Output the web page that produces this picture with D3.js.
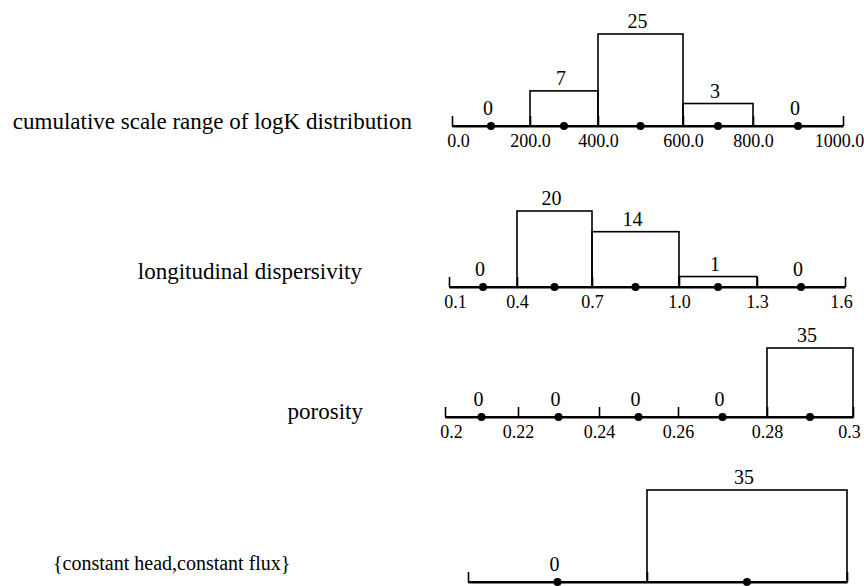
<!DOCTYPE html>
<html>
<head>
<meta charset="utf-8">
<script src="https://cdn.jsdelivr.net/npm/d3@7"></script>
<style>
  html, body { margin: 0; padding: 0; background: #fff; }
  svg { display: block; }
</style>
</head>
<body>
<svg id="chart" width="864" height="586"></svg>
<script>
// ---------------- DATA ----------------
const parameterNames = [
  "cumulative scale range of logK distribution",
  "longitudinal dispersivity",
  "porosity",
  "{constant head,constant flux}"
];
const logKTicks = [0, 200, 400, 600, 800, 1000];
const logKTickLabels = ["0.0", "200.0", "400.0", "600.0", "800.0", "1000.0"];
const logKCounts = [0, 7, 25, 3, 0];

const dispTicks = [0.1, 0.4, 0.7, 1.0, 1.3, 1.6];
const dispTickLabels = ["0.1", "0.4", "0.7", "1.0", "1.3", "1.6"];
const dispCounts = [0, 20, 14, 1, 0];

const porTicks = [0.2, 0.22, 0.24, 0.26, 0.28, 0.3];
const porTickLabels = ["0.2", "0.22", "0.24", "0.26", "0.28", "0.3"];
const porCounts = [0, 0, 0, 0, 35];

const bcCategories = ["constant head", "constant flux"];
const bcCounts = [0, 35];

// ---------------- LAYOUT ----------------
const FONT = "'Liberation Serif', monospace";
const svg = d3.select("#chart");

const panels = [
  { name: parameterNames[0], ticks: logKTicks, labels: logKTickLabels, counts: logKCounts,
    range: [452, 530, 598, 683, 753, 843], axisY: 126, hRange: [13, 92],
    nameX: 412, nameY: 129, nameAnchor: "end", nameSize: 23 },
  { name: parameterNames[1], ticks: dispTicks, labels: dispTickLabels, counts: dispCounts,
    range: [449, 517, 592, 679, 757, 845], axisY: 287, hRange: [7, 76],
    nameX: 362, nameY: 279, nameAnchor: "end", nameSize: 23 },
  { name: parameterNames[2], ticks: porTicks, labels: porTickLabels, counts: porCounts,
    range: [445, 518, 599, 678, 767, 853], axisY: 417, hRange: [0, 69],
    nameX: 363, nameY: 419, nameAnchor: "end", nameSize: 23 },
  { name: parameterNames[3], ticks: d3.range(bcCategories.length + 1), labels: null, counts: bcCounts,
    range: [468, 647, 847], axisY: 582, hRange: [0, 92],
    nameX: 53, nameY: 570, nameAnchor: "start", nameSize: 20 }
];

panels.forEach(p => {
  const x = d3.scaleLinear().domain(p.ticks).range(p.range);
  const maxC = d3.max(p.counts);
  const h = d3.scaleLinear().domain([0, maxC]).range(p.hRange);

  const g = svg.append("g");

  // parameter name
  g.append("text")
    .attr("x", p.nameX).attr("y", p.nameY)
    .attr("text-anchor", p.nameAnchor)
    .style("font-family", FONT)
    .style("font-size", p.nameSize + "px")
    .attr("fill", "#000")
    .text(p.name);

  // axis (ticks pointing up, labels below)
  const axis = d3.axisBottom(x)
    .tickValues(p.ticks)
    .tickSizeInner(-10)
    .tickSizeOuter(0)
    .tickPadding(8)
    .tickFormat((d, i) => p.labels ? p.labels[i] : "");
  const ag = g.append("g")
    .attr("transform", `translate(0,${p.axisY})`)
    .call(axis)
    .attr("font-family", FONT);
  ag.select(".domain").attr("stroke", "#000").attr("stroke-width", 2.2);
  ag.selectAll(".tick line").attr("stroke", "#000").attr("stroke-width", 1.6);
  ag.selectAll(".tick text")
    .style("font-family", FONT)
    .style("font-size", "18px")
    .attr("fill", "#000")
    .attr("dx", (d, i) => i === 0 ? 6 : (i === p.ticks.length - 1 ? -4 : 0));

  // bins
  const bins = p.counts.map((c, i) => ({ c, x0: p.ticks[i], x1: p.ticks[i + 1] }));

  g.selectAll("rect.bar")
    .data(bins.filter(b => b.c > 0))
    .join("rect")
    .attr("class", "bar")
    .attr("x", b => x(b.x0))
    .attr("width", b => x(b.x1) - x(b.x0))
    .attr("y", b => p.axisY - h(b.c))
    .attr("height", b => h(b.c))
    .attr("fill", "none")
    .attr("stroke", "#000")
    .attr("stroke-width", 1.6);

  // count labels
  g.selectAll("text.count")
    .data(bins)
    .join("text")
    .attr("class", "count")
    .attr("x", b => x((b.x0 + b.x1) / 2) - 3)
    .attr("y", b => b.c > 0 ? p.axisY - h(b.c) - 6 : p.axisY - 11)
    .attr("text-anchor", "middle")
    .style("font-family", FONT)
    .style("font-size", "20px")
    .attr("fill", "#000")
    .text(b => b.c);

  // redraw baseline over bars
  g.append("line")
    .attr("x1", p.range[0]).attr("x2", p.range[p.range.length - 1])
    .attr("y1", p.axisY).attr("y2", p.axisY)
    .attr("stroke", "#000").attr("stroke-width", 2.2);

  // bin midpoint dots
  g.selectAll("circle.dot")
    .data(bins)
    .join("circle")
    .attr("class", "dot")
    .attr("cx", b => x((b.x0 + b.x1) / 2))
    .attr("cy", p.axisY)
    .attr("r", 4)
    .attr("fill", "#000");
});
</script>
</body>
</html>
